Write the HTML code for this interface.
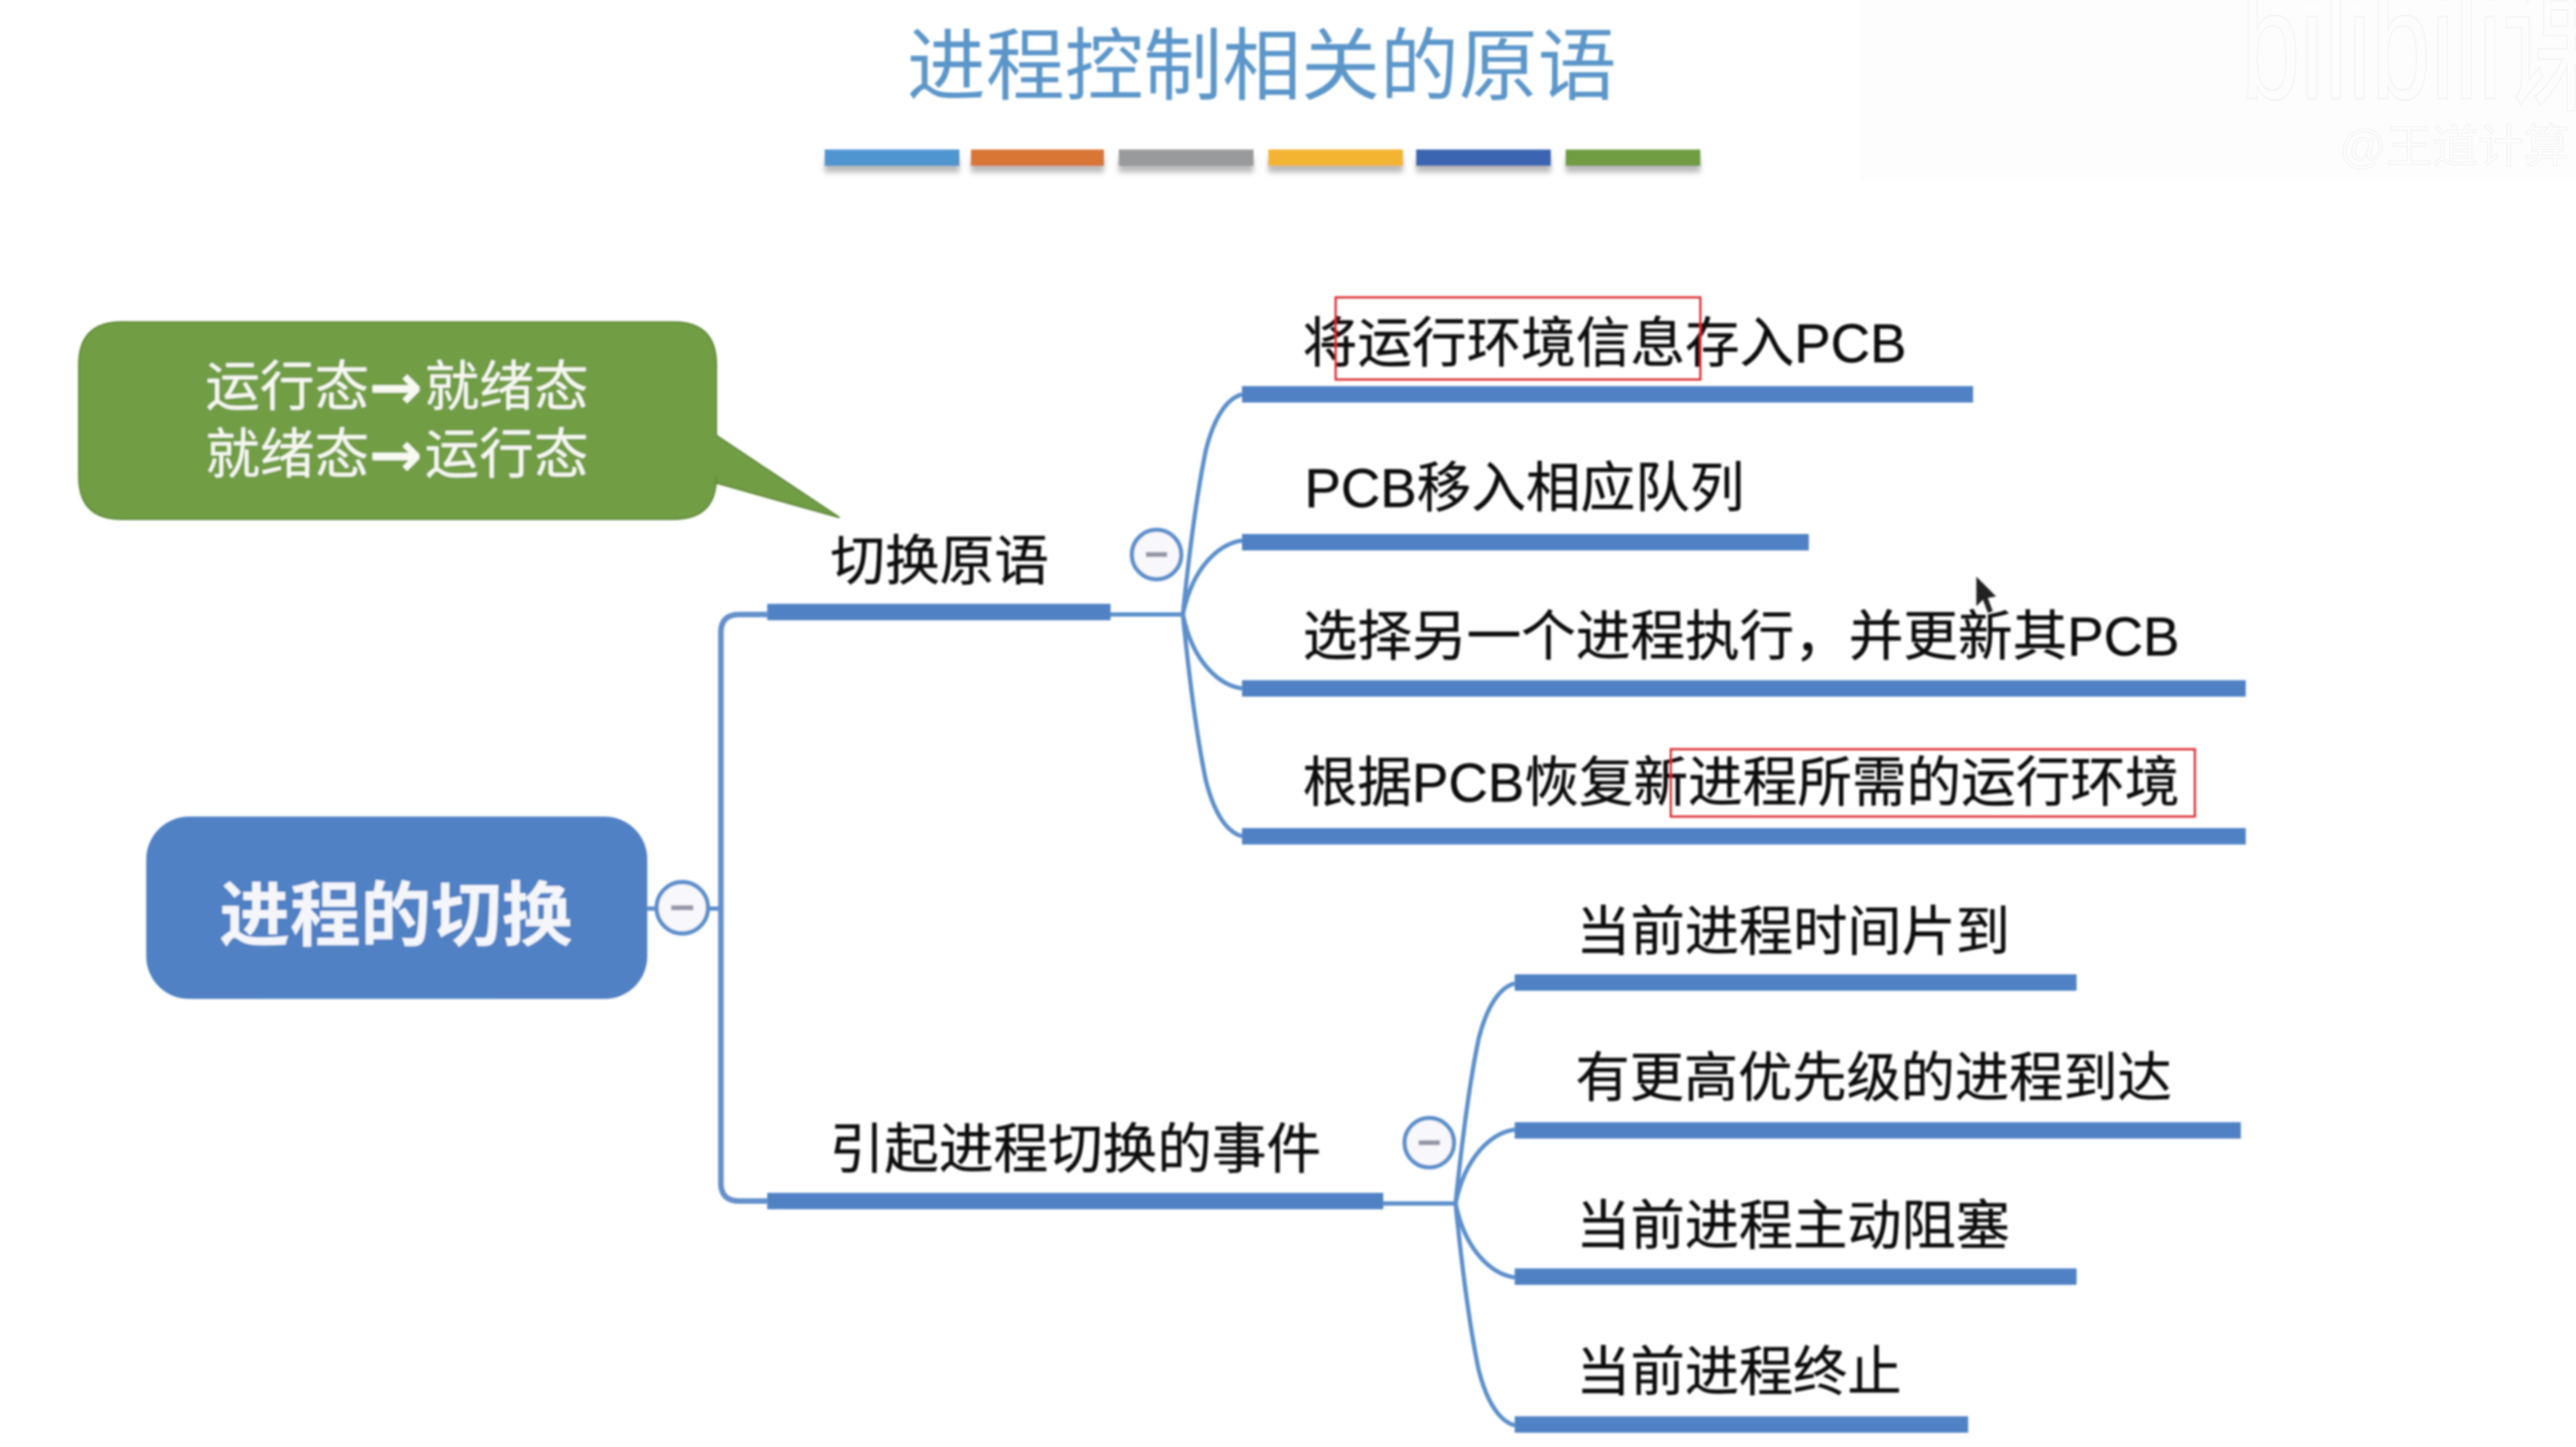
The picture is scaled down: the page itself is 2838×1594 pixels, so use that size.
<!DOCTYPE html>
<html lang="zh">
<head>
<meta charset="utf-8">
<title>进程控制相关的原语</title>
<style>
html,body{margin:0;padding:0;background:#fff;width:2838px;height:1594px;overflow:hidden}
svg{display:block}
text{font-family:"Liberation Sans","Noto Sans CJK SC",sans-serif}
.t{font-size:33.25px;fill:#111;stroke:#111;stroke-width:.25}
.r{font-size:33px}
.c{font-size:33.25px;fill:#f6f8f0}
.ar{font-family:"DejaVu Sans",sans-serif;font-weight:bold;font-size:39px;fill:#f8faf2}
.bar{fill:#4f81c4}
.line{fill:none;stroke:#5b8fcb;stroke-width:2.6}
.main{fill:none;stroke:#6590cb;stroke-width:3.4}
.red{fill:none;stroke:#d9262b;stroke-width:1.3}
</style>
</head>
<body>
<svg width="2838" height="1594" viewBox="0 0 1568 880.7" xmlns="http://www.w3.org/2000/svg">
<defs>
<filter id="soft" x="-5%" y="-5%" width="110%" height="110%"><feGaussianBlur stdDeviation="0.6"/></filter>
<filter id="sh" x="-10%" y="-50%" width="120%" height="250%"><feGaussianBlur stdDeviation="1.6"/></filter>
<g id="fan">
<path class="line" d="M756 240C745 243 738 258 734 274C729 298 724 335 720 374"/>
<path class="line" d="M756 329C742 331 726 345 720 374"/>
<path class="line" d="M756 419C742 417 726 403 720 374"/>
<path class="line" d="M756 509C745 506 738 491 734 475C729 451 724 414 720 374"/>
</g>
</defs>
<rect width="1568" height="881" fill="#fff"/>
<rect x="1132" y="0" width="436" height="110" fill="#fdfdfd"/>
<g fill="#fdfdfd" stroke="#f6f6f7" stroke-width=".8">
<text transform="translate(1364 60) scale(1 1.45)" font-size="65">bilibili课</text>
<text x="1424" y="99" font-size="28">@王道计算</text>
</g>

<g filter="url(#soft)">
<text x="768" y="57" text-anchor="middle" font-size="48" fill="#5b96c9">进程控制相关的原语</text>

<g filter="url(#sh)" fill="#bbb">
<rect x="502" y="96" width="82" height="9"/><rect x="591" y="96" width="81" height="9"/><rect x="681" y="96" width="82" height="9"/>
<rect x="772" y="96" width="82" height="9"/><rect x="862" y="96" width="82" height="9"/><rect x="953" y="96" width="82" height="9"/>
</g>
<rect x="502" y="91" width="82" height="10" fill="#5095d0"/>
<rect x="591" y="91" width="81" height="10" fill="#d97436"/>
<rect x="681" y="91" width="82" height="10" fill="#999a9b"/>
<rect x="772" y="91" width="82" height="10" fill="#f3b433"/>
<rect x="862" y="91" width="82" height="10" fill="#3a65b0"/>
<rect x="953" y="91" width="82" height="10" fill="#6f9c42"/>

<!-- callout -->
<path d="M74 196H410Q436 196 436 222V265L511 315L436 294V290Q436 316 410 316H74Q48 316 48 290V222Q48 196 74 196Z" fill="#719d45" stroke="#5f8a38" stroke-width="1"/>
<text class="c" x="125" y="247">运行态</text><text class="ar" x="224.500" y="249">→</text><text class="c" x="258.500" y="247">就绪态</text>
<text class="c" x="125" y="288">就绪态</text><text class="ar" x="224.500" y="290">→</text><text class="c" x="258.500" y="288">运行态</text>

<!-- connectors -->
<path class="line" d="M394 553H438"/>
<path class="main" d="M467 374H450Q438.800 374 438.800 385V720Q438.800 731 450 731H467"/>
<path class="line" d="M676 374H720"/>
<use href="#fan"/>
<path class="line" d="M842 732.500H886"/>
<use href="#fan" transform="translate(166 358.500)"/>

<!-- root -->
<rect x="89" y="497" width="305" height="111" rx="26" fill="#4f81c4"/>
<text x="241" y="572" text-anchor="middle" font-size="43" font-weight="bold" fill="#f4f6fb">进程的切换</text>

<!-- collapse circles -->
<g fill="#f8f8fc" stroke="#5b8fcb" stroke-width="2.6">
<circle cx="415.300" cy="552.500" r="15.600"/><circle cx="704" cy="337.500" r="15"/><circle cx="870" cy="695.500" r="15"/>
</g>
<g fill="#9496a6">
<rect x="408.500" y="551" width="13.500" height="3"/><rect x="697.500" y="336" width="13" height="3"/><rect x="863.500" y="694" width="13" height="3"/>
</g>

<!-- bars -->
<rect class="bar" x="467" y="367.500" width="209" height="10"/>
<rect class="bar" x="467" y="726" width="375" height="10"/>
<rect class="bar" x="756" y="235" width="445" height="10"/>
<rect class="bar" x="756" y="325" width="345" height="10"/>
<rect class="bar" x="756" y="414" width="611" height="10"/>
<rect class="bar" x="756" y="504" width="611" height="10"/>
<rect class="bar" x="922" y="593" width="342" height="10"/>
<rect class="bar" x="922" y="683" width="442" height="10"/>
<rect class="bar" x="922" y="772" width="342" height="10"/>
<rect class="bar" x="922" y="862" width="276" height="10"/>

<!-- labels -->
<text class="t" x="505.500" y="353">切换原语</text>
<text class="t" x="505" y="711">引起进程切换的事件</text>
<text class="t" x="793" y="220.500">将运行环境信息存入PCB</text>
<text class="t" x="794" y="308.500">PCB移入相应队列</text>
<text class="t" x="793" y="399">选择另一个进程执行，并更新其PCB</text>
<text class="t" x="793" y="488">根据PCB恢复新进程所需的运行环境</text>
<text class="t r" x="959.500" y="578.500">当前进程时间片到</text>
<text class="t r" x="959" y="667.500">有更高优先级的进程到达</text>
<text class="t r" x="959.500" y="757.500">当前进程主动阻塞</text>
<text class="t r" x="959.500" y="846.500">当前进程终止</text>

<!-- red highlight boxes -->
<rect class="red" x="813" y="181" width="222" height="50"/>
<rect class="red" x="1017" y="456" width="319" height="41"/>

<!-- cursor -->
<path d="M1203 351V369L1207 365L1210 373L1213 372L1210 364L1215 363Z" fill="#222"/>
</g>
</svg>
</body>
</html>
